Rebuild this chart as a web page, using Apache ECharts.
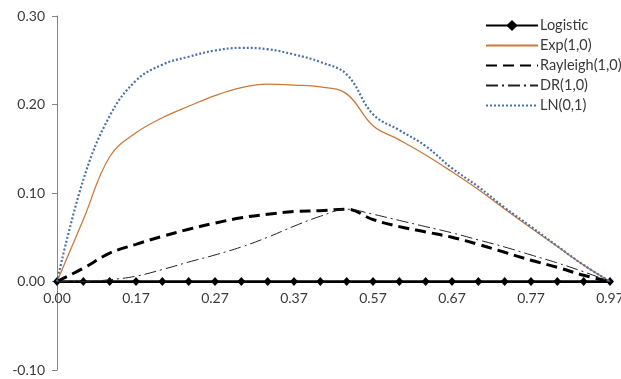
<!DOCTYPE html>
<html>
<head>
<meta charset="utf-8">
<script src="https://cdn.jsdelivr.net/npm/echarts@6/dist/echarts.min.js"></script>
<style>
html,body{margin:0;padding:0;background:#fff;}
#chart{width:621px;height:379px;}
</style>
</head>
<body>
<div id="chart"></div>
<script>
var categories = ["0.00","0.06","0.12","0.17","0.20","0.24","0.27","0.30","0.34","0.37","0.44","0.50","0.57","0.60","0.64","0.67","0.70","0.74","0.77","0.84","0.90","0.97"];
var yTicks = [-0.10, 0.00, 0.10, 0.20, 0.30];
var logistic = [0,0,0,0,0,0,0,0,0,0,0,0,0,0,0,0,0,0,0,0,0,0];
var expSeries = [0, 0.070, 0.141, 0.168, 0.185, 0.198, 0.210, 0.219, 0.223, 0.222, 0.220, 0.212, 0.176, 0.160, 0.143, 0.124, 0.104, 0.082, 0.0605, 0.0395, 0.0185, 0];
var rayleigh = [0, 0.015, 0.032, 0.042, 0.051, 0.059, 0.066, 0.072, 0.076, 0.079, 0.080, 0.0817, 0.070, 0.062, 0.056, 0.050, 0.042, 0.033, 0.024, 0.016, 0.007, 0];
var dr = [0, 0, 0.002, 0.006, 0.0135, 0.022, 0.030, 0.039, 0.050, 0.0625, 0.0737, 0.0817, 0.076, 0.069, 0.062, 0.055, 0.047, 0.039, 0.030, 0.021, 0.011, 0];
var ln = [0, 0.115, 0.187, 0.227, 0.245, 0.254, 0.261, 0.264, 0.2625, 0.2565, 0.248, 0.234, 0.189, 0.171, 0.153, 0.128, 0.107, 0.0835, 0.062, 0.040, 0.0186, 0];

var FONT = 'Lato';
var TXT = '#3a3a3a';
var hidden = {opacity: 0};
var GRID = {left: 57, right: 11, top: 16, bottom: 9};
var H = 379;
var plotH = H - GRID.top - GRID.bottom;
var zeroFromBottom = plotH * (0 - yTicks[0]) / (yTicks[yTicks.length-1] - yTicks[0]);
var chart = echarts.init(document.getElementById('chart'), null, {renderer:'canvas'});
chart.setOption({
  animation: false,
  backgroundColor: '#ffffff',
  textStyle: {fontFamily: FONT},
  grid: {left: GRID.left, right: GRID.right, top: GRID.top, bottom: GRID.bottom, containLabel: false, outerBoundsMode: 'none'},
  legend: {
    orient: 'vertical', left: 485, top: 18, padding: 0,
    itemWidth: 52, itemHeight: 14, itemGap: 5,
    textStyle: {fontFamily: FONT, fontSize: 14.5, color: TXT, lineHeight: 14, padding: [0,0,0,-3]},
    data: [
      {name: 'Logistic'},
      {name: 'Exp(1,0)', itemStyle: hidden},
      {name: 'Rayleigh(1,0)', itemStyle: hidden},
      {name: 'DR(1,0)', itemStyle: hidden},
      {name: 'LN(0,1)', itemStyle: hidden}
    ]
  },
  xAxis: {
    type: 'category', data: categories, boundaryGap: false,
    axisLine: {onZero: true, lineStyle: {color: '#868686', width: 1}},
    axisTick: {show: false},
    axisLabel: {show: true, interval: 2, margin: 10 - zeroFromBottom, fontFamily: FONT, fontSize: 14, color: TXT},
    splitLine: {show: false}
  },
  yAxis: {
    type: 'value', min: yTicks[0], max: yTicks[yTicks.length-1], interval: 0.1,
    axisLine: {show: true, lineStyle: {color: '#868686', width: 1}},
    axisTick: {show: true, length: 5, lineStyle: {color: '#868686'}},
    axisLabel: {margin: 12, fontFamily: FONT, fontSize: 14, color: TXT,
      formatter: function(v){ return v.toFixed(2); }},
    splitLine: {show: false}
  },
  series: [
    {name: 'Logistic', type: 'line', data: logistic, symbol: 'diamond', symbolSize: [8, 9],
     showSymbol: true, itemStyle: {color: '#000'}, lineStyle: {color: '#000', width: 2.75}, z: 2},
    {name: 'Exp(1,0)', type: 'line', data: expSeries, smooth: 0.4, showSymbol: false, symbol: 'none',
     itemStyle: {color: '#C87A3E'}, lineStyle: {color: '#C87A3E', width: 1.3}, z: 3},
    {name: 'Rayleigh(1,0)', type: 'line', data: rayleigh, smooth: 0.4, showSymbol: false, symbol: 'none',
     itemStyle: {color: '#000'}, lineStyle: {color: '#000', width: 3, type: [11, 6]}, z: 4},
    {name: 'DR(1,0)', type: 'line', data: dr, smooth: 0.4, showSymbol: false, symbol: 'none',
     itemStyle: {color: '#222'}, lineStyle: {color: '#222', width: 1, type: [12, 4, 2, 4]}, z: 5},
    {name: 'LN(0,1)', type: 'line', data: ln, smooth: 0.4, showSymbol: false, symbol: 'none',
     itemStyle: {color: '#4F72A6'}, lineStyle: {color: '#4F72A6', width: 2.2, type: [2, 2]}, z: 6}
  ]
});
</script>
</body>
</html>
